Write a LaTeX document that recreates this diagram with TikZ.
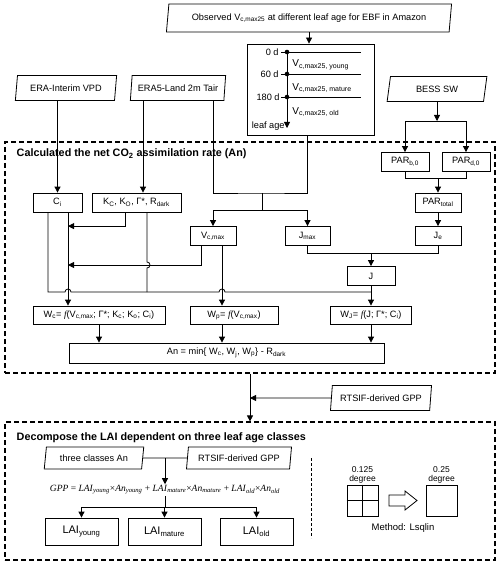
\documentclass[tikz,border=0pt]{standalone}
\usepackage{fontspec}
\setmainfont{Liberation Sans}
\newfontfamily\serifit{Liberation Serif}
\usetikzlibrary{arrows.meta,shapes.geometric,calc}

\begin{document}
\begin{tikzpicture}[x=1pt,y=-1pt,line width=0.8pt,
  font=\fontsize{9.2}{10}\selectfont,
  box/.style={draw,inner sep=0pt,minimum height=19},
  data/.style={draw,trapezium,trapezium stretches=true,trapezium left angle=77,
    trapezium right angle=103,inner sep=0pt,minimum height=25},
  arr/.style={-{Triangle[length=6pt,width=6pt]}},
  group/.style={draw,dash pattern=on 5pt off 3pt,line width=1.2pt,inner sep=0pt},
  title/.style={anchor=west,font=\fontsize{10.8}{12}\selectfont\bfseries},
  agetick/.style={anchor=east,inner sep=1pt},
  agelab/.style={anchor=west,inner sep=0pt,font=\fontsize{10}{11}\selectfont}]
 \useasboundingbox (0,0) rectangle (500,564);

 % inputs
 \node (Obs) [data,minimum width=286,minimum height=28] at (309,18) {Observed V\textsubscript{c,max25} at different leaf age for EBF in Amazon};
 \node (VPD) [data,minimum width=102] at (66,88) {ERA-Interim VPD};
 \node (Tair) [data,minimum width=96] at (178,88) {ERA5-Land 2m Tair};
 \node (SW) [data,minimum width=100] at (437,89) {BESS SW};

 % leaf age box
 \node (Age) [box,minimum width=127,minimum height=91] at (310.5,89.5) {};
 \coordinate (A0) at (287,52);
 \coordinate (A1) at (287,74);
 \coordinate (A2) at (287,97);
 \coordinate (A3) at (287,128);
 \draw[arr] (A0) -- (A3);
 \foreach \p in {A0,A1,A2} {
  \draw (\p) -- ++(74,0) (\p) -- ++(-6,0);
  \fill (\p) circle (2.3);
 }
 \node (D0) [agetick] at (280,52) {0 d};
 \node (D60) [agetick] at (280,74) {60 d};
 \node (D180) [agetick] at (281,97) {180 d};
 \node (Lage) [agetick,inner sep=0pt] at (285,126) {leaf age};
 \node (Vy) [agelab] at (292,65) {V\textsubscript{c,max25, young}};
 \node (Vm) [agelab] at (292,88) {V\textsubscript{c,max25, mature}};
 \node (Vo) [agelab] at (292,112) {V\textsubscript{c,max25, old}};
 \draw[arr] (Obs.south) -- (Obs.south |- Age.north);

 % net CO2 assimilation rate
 \node (G1) [group,minimum width=490,minimum height=231] at (250,257.5) {};
 \node (T1) [title] at (13,154) {Calculated the net CO\textsubscript{2} assimilation rate (An)};

 \node (Ci) [box,minimum width=49] at (57.5,202.5) {C\textsubscript{i}};
 \node (K) [box,minimum width=89] at (136.5,202.5) {K\textsubscript{C}, K\textsubscript{O}, Γ*, R\textsubscript{dark}};
 \node (PARb) [box,minimum width=48] at (405,162) {PAR\textsubscript{b,0}};
 \node (PARd) [box,minimum width=48] at (466,162) {PAR\textsubscript{d,0}};
 \node (PARt) [box,minimum width=46] at (438,202.5) {PAR\textsubscript{total}};
 \node (Vc) [box,minimum width=46] at (213,236) {V\textsubscript{c,max}};
 \node (Jmax) [box,minimum width=45] at (307.5,236) {J\textsubscript{max}};
 \node (Je) [box,minimum width=46] at (438,236) {J\textsubscript{e}};
 \node (J) [box,minimum width=48] at (371,276) {J};
 \node (Wc) [box,minimum width=132,minimum height=18] at (99,315) {W\textsubscript{c}= {\serifit\itshape f}(V\textsubscript{c,max}; Γ*; K\textsubscript{c}; K\textsubscript{o}; C\textsubscript{i})};
 \node (Wp) [box,minimum width=88,minimum height=18] at (234,315) {W\textsubscript{p}= {\serifit\itshape f}(V\textsubscript{c,max})};
 \node (Wj) [box,minimum width=81,minimum height=18] at (371,315) {W\textsubscript{J}= {\serifit\itshape f}(J; Γ*; C\textsubscript{i})};
 \node (An) [box,minimum width=315,minimum height=20] at (226.5,353) {An = min\{ W\textsubscript{c}, W\textsubscript{j}, W\textsubscript{p}\} - R\textsubscript{dark}};

 \coordinate (Kin) at ([xshift=6.5pt]K.north);
 \coordinate (CiL) at ([xshift=-9.5pt]Ci.south);
 \coordinate (CiR) at ([xshift=10.5pt]Ci.south);
 \coordinate (KL) at ([xshift=-11.5pt]K.south);
 \coordinate (KR) at ([xshift=10.5pt]K.south);
 \coordinate (VcL) at ([xshift=-12pt]Vc.south);
 \coordinate (VcR) at ([xshift=9pt]Vc.south);
 \coordinate (M1) at (262,193);
 \coordinate (M2) at (262,210);
 \coordinate (S1) at (437,121);
 \coordinate (S2) at (438,178);
 \coordinate (S3) at (371,253);
 \coordinate (B1) at (0,265);
 \coordinate (B2) at (0,292);

 \draw[arr] (VPD.south -| Ci) -- (Ci);
 \draw[arr] (Tair.south -| Kin) -- (Kin);
 \draw (Tair.south -| Vc) |- (M1) -| (Age.south -| Jmax);
 \draw (M1) -- (M2);
 \draw[arr] (M2) -| (Vc);
 \draw[arr] (M2) -| (Jmax);
 \draw[arr] (SW.south -| S1) -- (S1);
 \draw[arr] (S1) -| (PARb);
 \draw[arr] (S1) -| (PARd);
 \draw (PARb) |- (S2);
 \draw (PARd) |- (S2);
 \draw[arr] (S2) -- (PARt);
 \draw[arr] (PARt) -- (Je);
 \draw (Jmax) |- (S3);
 \draw (Je) |- (S3);
 \draw[arr] (S3) -- (J);
 \draw[arr] (J) -- (Wj);
 \draw[arr] (KL) |- (CiR |- Vc.north);
 \draw[arr] (VcL) |- (CiR |- B1);
 \draw (KR) -- ($(KR |- B1)+(0,-3)$) arc[start angle=90,end angle=-90,radius=3pt] -- (KR |- B2);
 \draw (CiL) |- ($(CiR |- B2)+(-3,0)$) arc[start angle=180,end angle=0,radius=3pt]
   -- ($(VcR |- B2)+(-3,0)$) arc[start angle=180,end angle=0,radius=3pt] -- (J |- B2);
 \draw[arr] (CiR) -- (CiR |- Wc.north);
 \draw[arr] (VcR) -- (VcR |- Wp.north);
 \draw[arr] (Wc) -- (Wc |- An.north);
 \draw[arr] (VcR |- Wp.south) -- (VcR |- An.north);
 \draw[arr] (Wj) -- (Wj |- An.north);

 % decomposition of LAI
 \node (Rt1) [data,minimum width=102] at (381,398) {RTSIF-derived GPP};
 \node (G2) [group,minimum width=490,minimum height=138] at (250,491) {};
 \node (T2) [title] at (13,438) {Decompose the LAI dependent on three leaf age classes};
 \draw[arr] (G1.south) -- (G2.north);
 \draw[arr] (Rt1) -- (Rt1 -| G1.south);

 \node (An3) [data,minimum width=100,minimum height=22] at (94,458) {three classes An};
 \node (Rt2) [data,minimum width=106,minimum height=22] at (239,458) {RTSIF-derived GPP};
 \node (Eq) [inner sep=1pt,font=\fontsize{9.5}{10}\selectfont\serifit] at (165,490)
  {\textit{GPP} = \textit{LAI}\textsubscript{\textit{young}}×\textit{An}\textsubscript{\textit{young}}
   + \textit{LAI}\textsubscript{\textit{mature}}×\textit{An}\textsubscript{\textit{mature}}
   + \textit{LAI}\textsubscript{\textit{old}}×\textit{An}\textsubscript{\textit{old}}};
 \node (Ly) [box,minimum width=73,minimum height=27,font=\fontsize{11}{12}\selectfont] at (81.5,531.5) {LAI\textsubscript{young}};
 \node (Lm) [box,minimum width=73,minimum height=27,font=\fontsize{11}{12}\selectfont] at (164.5,531.5) {LAI\textsubscript{mature}};
 \node (Lo) [box,minimum width=73,minimum height=27,font=\fontsize{11}{12}\selectfont] at (256.5,531.5) {LAI\textsubscript{old}};
 \coordinate (S4) at (165,458);
 \coordinate (S5) at (165,507);
 \draw (An3) -- (Rt2);
 \draw[arr] (S4) -- (S4 |- Eq.north);
 \draw (Eq.south) -- (S5);
 \draw[arr] (S5) -| (Ly);
 \draw[arr] (S5) -| (Lm);
 \draw[arr] (S5) -| (Lo);

 % resampling
 \draw[dash pattern=on 3pt off 2pt,line width=0.7pt] (311,458) -- (311,538);
 \node (Fine) [draw,minimum size=31,inner sep=0pt] at (362.5,500.5) {};
 \draw (Fine.north) -- (Fine.south) (Fine.west) -- (Fine.east);
 \node (Coarse) [draw,minimum size=31,inner sep=0pt] at (441.5,500.5) {};
 \node (FineLab) [anchor=south,align=center,inner sep=1pt,font=\fontsize{8.5}{9}\selectfont] at (Fine.north) {0.125\\degree};
 \node (CoarseLab) [anchor=south,align=center,inner sep=1pt,font=\fontsize{8.5}{9}\selectfont] at (Coarse.north) {0.25\\degree};
 \draw (389,495) -- (405,495) -- (405,491) -- (417,500.5) -- (405,510) -- (405,506) -- (389,506) -- cycle;
 \node (Meth) [font=\fontsize{9.5}{10}\selectfont] at (403,528) {Method: Lsqlin};
\end{tikzpicture}
\end{document}
